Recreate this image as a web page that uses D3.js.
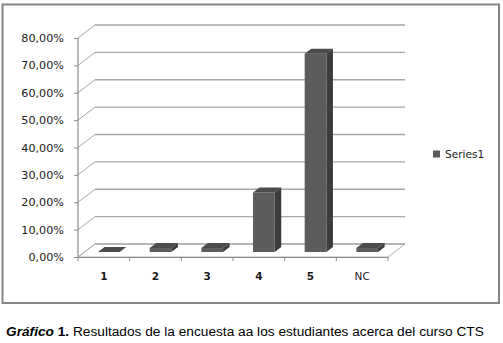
<!DOCTYPE html>
<html><head><meta charset="utf-8">
<script src="https://cdn.jsdelivr.net/npm/d3@7"></script>
<style>body{margin:0;background:#fff}svg{display:block}</style>
</head><body>
<svg id="c" width="503" height="343"></svg>
<script>
const categories = ["1","2","3","4","5","NC"];
const values = [0.0, 1.45, 1.45, 21.74, 72.46, 1.45];
const yTicks = [0,10,20,30,40,50,60,70,80];
const seriesName = "Series1";
const captionBold = "Gráfico";
const captionNum = " 1.";
const captionRest = " Resultados de la encuesta aa los estudiantes acerca del curso CTS";

const svg = d3.select("#c");
const x0 = 78, x1 = 388, yBase = 257, yTop = 38;
const DX = 17, DY = -13; // depth offset (back wall)
const x = d3.scaleBand().domain(categories).range([x0, x1]).paddingInner(0).paddingOuter(0);
const y = d3.scaleLinear().domain([0, 80]).range([yBase, yTop]);

svg.append("rect").attr("x",2.5).attr("y",4.5).attr("width",496.5).attr("height",298.5)
  .attr("fill","#fff").attr("stroke","#858585").attr("stroke-width",2);

const grid = "#a6a6a6";
yTicks.forEach(t => {
  const yy = y(t);
  svg.append("line").attr("x1",x0+DX).attr("x2",x1+DX).attr("y1",yy+DY).attr("y2",yy+DY)
    .attr("stroke",grid).attr("stroke-width",1.3);
  svg.append("line").attr("x1",x0).attr("x2",x0+DX).attr("y1",yy).attr("y2",yy+DY)
    .attr("stroke",grid).attr("stroke-width",1);
});
svg.append("path").attr("d",`M${x0},${yBase}L${x0+DX},${yBase+DY}L${x1+DX},${yBase+DY}L${x1},${yBase}Z`)
  .attr("fill","none").attr("stroke","#b0b0b0").attr("stroke-width",1);
svg.append("line").attr("x1",x0).attr("x2",x0).attr("y1",y(80)).attr("y2",yBase)
  .attr("stroke","#8c8c8c").attr("stroke-width",1.2);

const yAxis = d3.axisLeft(y).tickValues(yTicks).tickSize(4).tickPadding(10)
  .tickFormat(d => d3.format(".2f")(d).replace(".",",") + "%");
const gy = svg.append("g").attr("transform",`translate(${x0},0)`).call(yAxis);
gy.select(".domain").remove();
gy.selectAll(".tick line").attr("stroke","#8c8c8c");
gy.selectAll("text").attr("font-family","DejaVu Sans, Verdana, sans-serif").attr("font-size",11.2).attr("fill","#1a1a1a");

const xAxis = d3.axisBottom(x).tickSize(0).tickPadding(16);
const gx = svg.append("g").attr("transform",`translate(0,${yBase})`).call(xAxis);
gx.select(".domain").attr("stroke","#8c8c8c").attr("stroke-width",1.2);
gx.selectAll("text").attr("font-family","DejaVu Sans, Verdana, sans-serif").attr("font-size",10.5)
  .attr("font-weight", d => d === "NC" ? "normal" : "bold").attr("fill","#1a1a1a");
categories.concat(["_end"]).forEach((c,i) => {
  const xx = x0 + i * x.bandwidth();
  svg.append("line").attr("x1",xx).attr("x2",xx).attr("y1",yBase).attr("y2",yBase+4)
    .attr("stroke","#8c8c8c");
});

const fFront = 0.385, fBack = 0.77;
const bw = x.bandwidth() * 0.42;
const bars = svg.append("g");
categories.forEach((c,i) => {
  const v = values[i];
  const cx = x(c) + x.bandwidth()/2 - 1.5;
  const xl = cx - bw/2 + DX*fFront, xr = cx + bw/2 + DX*fFront;
  const yb = yBase + DY*fFront, yt = y(v) + DY*fFront;
  const ddx = DX*(fBack-fFront), ddy = DY*(fBack-fFront);
  bars.append("path").attr("d",`M${xr},${yb}L${xr+ddx},${yb+ddy}L${xr+ddx},${yt+ddy}L${xr},${yt}Z`).attr("fill","#3c3c3c");
  bars.append("rect").attr("x",xl).attr("y",yt).attr("width",xr-xl).attr("height",Math.max(0,yb-yt)).attr("fill","#5c5c5c");
  bars.append("path").attr("d",`M${xl},${yt}L${xl+ddx},${yt+ddy}L${xr+ddx},${yt+ddy}L${xr},${yt}Z`).attr("fill","#4b4b4b");
});

svg.append("rect").attr("x",433).attr("y",150.5).attr("width",7).attr("height",7).attr("fill","#5c5c5c");
svg.append("text").attr("x",445).attr("y",158).text(seriesName)
  .attr("font-family","DejaVu Sans, Verdana, sans-serif").attr("font-size",10.6).attr("fill","#1a1a1a");

const cap = svg.append("text").attr("x",6).attr("y",336)
  .attr("font-family","Liberation Sans, Arial, sans-serif").attr("font-size",13.7).attr("fill","#000");
cap.append("tspan").attr("font-weight","bold").attr("font-style","italic").text(captionBold);
cap.append("tspan").attr("font-weight","bold").text(captionNum);
cap.append("tspan").text(captionRest);
</script>
</body></html>
